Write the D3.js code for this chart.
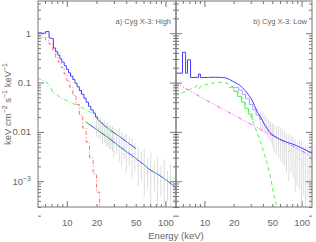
<!DOCTYPE html>
<html><head><meta charset="utf-8">
<script src="https://cdn.jsdelivr.net/npm/d3@7"></script>
<style>body{margin:0;background:#fff}text{font-family:"Liberation Sans",Arial,sans-serif;fill:#666}</style>
</head><body><svg id="c" width="316" height="242"></svg>
<script>
// ---------- data ----------
const xDomain=[5.1,128], yDomain=[3e-4,4.5];
const xLabelTicks=[10,20,50,100];
const yLabelTicks=[1,0.1,0.01,0.001];
const titles=["a) Cyg X-3: High","b) Cyg X-3: Low"];
const xTitle="Energy (keV)";

// panel a: total (upper) spectrum, stepped part and smooth part
const aTotalE=[5.0,5.5,6.1,6.6,7.0,7.3,7.7,8.1,8.5,8.9,9.4,9.9,10.4,10.9,11.5,12.1,12.7,13.4,14.1,14.9,15.7,16.6,17.5,18.5,19.5,20.5];
const aTotalV=[1.02,1.0,1.08,0.80,0.78,0.50,0.42,0.36,0.30,0.26,0.22,0.185,0.158,0.135,0.115,0.097,0.082,0.069,0.058,0.048,0.040,0.033,0.028,0.024,0.020,0.018];
const aTotalHiE=[20.5,24,28,32,36,40,45,50];
const aTotalHiV=[0.018,0.0135,0.0106,0.0088,0.0075,0.0064,0.0054,0.0046];
// panel a: disk (red)
const aDiskE=[5.0,5.5,6.1,6.6,7.2,7.7,8.2,8.8,9.4,10.0,10.7,11.5,12.4,13.4,14.5,15.7,17.0,18.5,20.0,21.5];
const aDiskV=[0.88,0.82,0.72,0.6,0.45,0.32,0.26,0.20,0.15,0.11,0.08,0.055,0.036,0.022,0.012,0.0062,0.003,0.0014,0.0006,0.00028];
// panel a: non-thermal (green dash-dot)
const aCompE=[5.0,5.9,6.7,7.2,8.0,9.2,10.8,13.8,17.4,19.5];
const aCompV=[0.122,0.109,0.089,0.063,0.056,0.046,0.040,0.032,0.025,0.020];
// panel a: lower spectrum (second instrument)
const aLowE=[15.5,18.5,22,26,30,35,40,45,50,55,60,67,75,84,93,104,115,124,133];
const aLowV=[0.0160,0.0125,0.0098,0.0077,0.0062,0.0049,0.0040,0.0034,0.0029,0.0025,0.0022,0.0018,0.00156,0.00138,0.00120,0.00102,0.00088,0.00076,0.00066];
// panel a: gray data points with errors
const aErrE=[20,21,22,23,24,25,26,27,28,29,30,32,34,36,38,40,43,46,49,53,57,61,66,71,77,83,90,97,105,113,122,130];
const aErrV=[0.013,0.012,0.011,0.010,0.0095,0.009,0.0085,0.008,0.0075,0.007,0.006,0.0062,0.0053,0.0045,0.0048,0.0036,0.004,0.003,0.003,0.0022,0.002,0.0015,0.0015,0.0011,0.0012,0.0009,0.001,0.0008,0.0008,0.0007,0.0006,0.0006];
const aErrLo=[0.008,0.0075,0.007,0.0055,0.006,0.005,0.005,0.0045,0.0045,0.004,0.003,0.0035,0.0025,0.002,0.0028,0.0015,0.002,0.0012,0.0015,0.0008,0.001,0.0005,0.0007,0.0003,0.0006,0.0003,0.0005,0.0003,0.0004,0.0003,0.00035,0.0003];
const aErrHi=[0.022,0.018,0.02,0.017,0.017,0.015,0.016,0.014,0.013,0.013,0.012,0.011,0.012,0.01,0.009,0.009,0.008,0.0075,0.006,0.005,0.004,0.0045,0.003,0.004,0.0025,0.003,0.002,0.0028,0.0016,0.0022,0.0012,0.0015];

// panel b: total (blue): stepped low-energy part, smooth high-energy part
const bTotalE=[5.0,5.95,6.4,6.7,7.2,8.7,9.1];
const bTotalV=[0.155,0.41,0.155,0.29,0.127,0.149,0.126];
const bTotalHiE=[9.1,11,13,15,16.6,18,20,22.8,24.5,26.4,28.5,30.6,32.8,35.2,38.4,42,46.9,52,59.4,70,80,88,100,110,120,128];
const bTotalHiV=[0.126,0.127,0.128,0.127,0.124,0.116,0.104,0.090,0.079,0.068,0.056,0.046,0.034,0.025,0.019,0.0135,0.0098,0.0083,0.0071,0.0062,0.0057,0.0053,0.0047,0.0043,0.0039,0.0037];
// panel b: comptonised (green dashed)
const bCompE=[5,6,7,8,8.4,8.8,9.2,10,12,14,16,18,20,22,24,26,28,31,34,37,40,44,48,52,55];
const bCompV=[0.054,0.063,0.072,0.08,0.086,0.074,0.086,0.090,0.097,0.101,0.100,0.093,0.080,0.066,0.052,0.040,0.030,0.018,0.011,0.0070,0.0044,0.0024,0.0012,0.0005,0.00033];
// panel b: power law (magenta)
const bPowE=[5,10,20,40,60,80,100,126];
const bPowV=[0.101,0.046,0.022,0.0107,0.0070,0.0052,0.0041,0.0032];
// panel b: second spectrum (light blue step) and its model (green step)
const bLowE=[20.4,22.5,24.5,26.5,29,31.5,34,37,39];
const bLowV=[0.080,0.070,0.058,0.047,0.036,0.028,0.022,0.018,0.018];
const bLowME=[18,20,22,24,26,28.5,31,32];
const bLowMV=[0.080,0.066,0.052,0.040,0.030,0.023,0.018,0.018];
// panel b: gray data points
const bErrE=[38,40,42,44,46,48,50,52,55,58,61,64,67,70,74,78,82,86,90,95,100,105,110,116,122,128];
const bErrV=[0.018,0.016,0.014,0.013,0.011,0.010,0.009,0.008,0.0075,0.007,0.0065,0.006,0.005,0.0045,0.004,0.0042,0.0035,0.0025,0.003,0.0028,0.002,0.0022,0.0015,0.002,0.0015,0.0015];
const bErrLo=[0.012,0.01,0.009,0.008,0.007,0.006,0.005,0.004,0.0035,0.003,0.0025,0.0022,0.002,0.0015,0.001,0.0015,0.0012,0.0006,0.0008,0.0007,0.0004,0.0005,0.0003,0.0005,0.0003,0.0003];
const bErrHi=[0.026,0.025,0.022,0.02,0.017,0.016,0.015,0.014,0.013,0.013,0.012,0.011,0.01,0.009,0.009,0.0085,0.008,0.007,0.006,0.007,0.0065,0.005,0.0055,0.005,0.005,0.0045];

// ---------- drawing ----------
const svg=d3.select("#c");
const yTop=1,yBot=207;
const panels=[{x0:38,x1:176},{x0:176,x1:312}];
const y=d3.scaleLog().domain(yDomain).range([yBot,yTop]);
const xs=panels.map(p=>d3.scaleLog().domain(xDomain).range([p.x0,p.x1]));
const clipIds=["ca","cb"];
panels.forEach((p,i)=>{
  svg.append("clipPath").attr("id",clipIds[i]).append("rect")
    .attr("x",p.x0).attr("y",yTop).attr("width",p.x1-p.x0).attr("height",yBot-yTop);
});
const C={blue:"#4040ff",red:"#ff7070",green:"#60ee60",mag:"#ff50ff",gray:"#d8d8d8",lblue:"#a0a0ff"};

function zip(E,V){return E.map((e,i)=>[e,V[i]]);}
function draw(i,E,V,color,opts={}){
  const x=xs[i];
  const line=d3.line().x(d=>x(d[0])).y(d=>y(d[1])).curve(opts.step?d3.curveStepAfter:d3.curveLinear);
  svg.append("path").attr("clip-path",`url(#${clipIds[i]})`)
    .attr("d",line(zip(E,V))).attr("fill","none").attr("stroke",color)
    .attr("stroke-width",opts.w||1).attr("stroke-dasharray",opts.dash||null);
}
function errs(i,E,V,Lo,Hi){
  const x=xs[i];
  const g=svg.append("g").attr("clip-path",`url(#${clipIds[i]})`).attr("stroke",C.gray).attr("stroke-width",0.9);
  E.forEach((e,k)=>{
    g.append("line").attr("x1",x(e)).attr("x2",x(e)).attr("y1",y(Lo[k])).attr("y2",y(Hi[k]));
    g.append("line").attr("x1",x(e*0.98)).attr("x2",x(e*1.02)).attr("y1",y(V[k])).attr("y2",y(V[k]));
  });
}

// panel a
errs(0,aErrE,aErrV,aErrLo,aErrHi);
draw(0,aLowE,aLowV,C.blue);
draw(0,aLowE,aLowV,C.green,{dash:"5,7"});
draw(0,aDiskE,aDiskV,C.red,{step:true,dash:"4,2,1,2"});
draw(0,aCompE,aCompV,C.green,{dash:"4,2,1,2"});
draw(0,aTotalE,aTotalV,C.blue,{step:true});
draw(0,aTotalHiE,aTotalHiV,C.blue);
draw(0,aTotalHiE,aTotalHiV,C.green,{dash:"5,7"});
// panel b
errs(1,bErrE,bErrV,bErrLo,bErrHi);
draw(1,bPowE,bPowV,C.mag,{dash:"4,2,1,2,1,2"});
draw(1,bCompE,bCompV,C.green,{dash:"4,3"});
draw(1,bLowME,bLowMV,C.green,{step:true});
draw(1,bLowE,bLowV,C.lblue,{step:true});
draw(1,bTotalE,bTotalV,C.blue,{step:true});
draw(1,bTotalHiE,bTotalHiV,C.blue);

// axes
const axCol="#777";
const xMinor=[6,7,8,9,20,30,40,50,60,70,80,90];
const xMajor=[10,100];
const yMinor=[];
[1e-4,1e-3,1e-2,1e-1,1].forEach(d=>{for(let k=2;k<=9;k++)yMinor.push(d*k);});
const yMajor=[1e-3,1e-2,1e-1,1];
function styleAx(g){g.select(".domain").remove();g.selectAll("line").attr("stroke",axCol);g.selectAll("text").remove();}
panels.forEach((p,i)=>{
  const x=xs[i];
  [[xMinor,3],[xMajor,6]].forEach(([vals,len])=>{
    svg.append("g").attr("transform",`translate(0,${yBot})`).call(d3.axisBottom(x).tickValues(vals).tickSize(-len)).call(styleAx);
    svg.append("g").attr("transform",`translate(0,${yTop})`).call(d3.axisTop(x).tickValues(vals).tickSize(-len)).call(styleAx);
  });
  const lab=svg.append("g").attr("transform",`translate(0,${yBot})`)
    .call(d3.axisBottom(x).tickValues(xLabelTicks).tickSize(0).tickPadding(12).tickFormat(d3.format("d")));
  lab.select(".domain").remove();
  lab.selectAll("text").attr("font-size",9.5).attr("fill","#666").attr("font-family","Liberation Sans,sans-serif");
  svg.append("rect").attr("x",p.x0).attr("y",yTop).attr("width",p.x1-p.x0).attr("height",yBot-yTop)
    .attr("fill","none").attr("stroke",axCol).attr("stroke-width",1);
  svg.append("text").attr("x",p.x1-5).attr("y",24).attr("text-anchor","end").attr("font-size",7.5).text(titles[i]);
});
// y ticks: left of panel a, right of panel b, both sides in the middle
[[yMinor,3],[yMajor,6]].forEach(([vals,len])=>{
  svg.append("g").attr("transform",`translate(${panels[0].x0},0)`).call(d3.axisLeft(y).tickValues(vals).tickSize(-len)).call(styleAx);
  svg.append("g").attr("transform",`translate(${panels[0].x1},0)`).call(d3.axisLeft(y).tickValues(vals).tickSize(-len)).call(styleAx);
  svg.append("g").attr("transform",`translate(${panels[0].x1},0)`).call(d3.axisRight(y).tickValues(vals).tickSize(-len)).call(styleAx);
  svg.append("g").attr("transform",`translate(${panels[1].x1},0)`).call(d3.axisRight(y).tickValues(vals).tickSize(-len)).call(styleAx);
});
// y labels
yLabelTicks.forEach(v=>{
  const t=svg.append("text").attr("x",31).attr("y",y(v)+3.5).attr("text-anchor","end").attr("font-size",9.5);
  if(v>=0.01) t.text(d3.format("~g")(v));
  else { t.text("10"); t.append("tspan").attr("dy",-4).attr("font-size",7).text("−3"); }
});
// axis titles
svg.append("text").attr("x",176).attr("y",239).attr("text-anchor","middle").attr("font-size",9.5).text(xTitle);
const yt=svg.append("text").attr("transform","translate(11,104) rotate(-90)").attr("text-anchor","middle").attr("font-size",9.5);
yt.append("tspan").text("keV cm");
yt.append("tspan").attr("dy",-4).attr("font-size",7).text("−2");
yt.append("tspan").attr("dy",4).text(" s");
yt.append("tspan").attr("dy",-4).attr("font-size",7).text("−1");
yt.append("tspan").attr("dy",4).text(" keV");
yt.append("tspan").attr("dy",-4).attr("font-size",7).text("−1");
</script></body></html>
